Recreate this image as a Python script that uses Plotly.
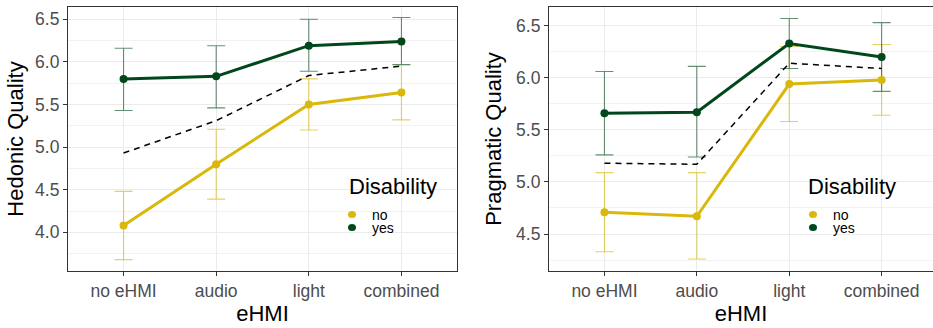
import plotly.graph_objects as go

categories = ["no eHMI", "audio", "light", "combined"]
groups = ["no", "yes"]

# Hedonic Quality
hq_no = [4.08, 4.80, 5.50, 5.64]
hq_no_hi = [4.48, 5.21, 5.80, 5.96]
hq_no_lo = [3.68, 4.39, 5.20, 5.32]
hq_yes = [5.80, 5.83, 6.19, 6.24]
hq_yes_hi = [6.16, 6.19, 6.50, 6.52]
hq_yes_lo = [5.43, 5.46, 5.89, 5.97]
hq_overall = [4.93, 5.31, 5.84, 5.95]

# Pragmatic Quality
pq_no = [4.71, 4.67, 5.94, 5.98]
pq_no_hi = [5.09, 5.09, 6.30, 6.32]
pq_no_lo = [4.33, 4.26, 5.58, 5.64]
pq_yes = [5.66, 5.67, 6.33, 6.20]
pq_yes_hi = [6.06, 6.11, 6.57, 6.53]
pq_yes_lo = [5.26, 5.24, 6.09, 5.87]
pq_overall = [5.18, 5.17, 6.14, 6.09]

y_ticks_hq = [4.0, 4.5, 5.0, 5.5, 6.0, 6.5]
y_ticks_pq = [4.5, 5.0, 5.5, 6.0, 6.5]

COL_NO = "#D9B80B"
COL_YES = "#00471C"
ERR_NO = "rgba(217,184,11,0.65)"
ERR_YES = "rgba(0,71,28,0.6)"
FONT = "Liberation Sans, Arial, sans-serif"

xpos = list(range(len(categories)))

W, H = 933, 328
ML, MR, MT, MB = 68, 0, 7, 57
PW = W - ML - MR
PH = H - MT - MB


def px(xp):
    return (xp - ML) / PW


def py(yp):
    return (H - MB - yp) / PH


fig = go.Figure()


def add_panel(xa, ya, no, no_hi, no_lo, yes, yes_hi, yes_lo, overall):
    for vals, hi, lo, ecol in [(no, no_hi, no_lo, ERR_NO),
                                (yes, yes_hi, yes_lo, ERR_YES)]:
        fig.add_trace(go.Scatter(
            x=xpos, y=vals, mode="markers", xaxis=xa, yaxis=ya,
            marker=dict(color="rgba(0,0,0,0)", size=1),
            error_y=dict(type="data", symmetric=False,
                         array=[h - v for h, v in zip(hi, vals)],
                         arrayminus=[v - l for v, l in zip(vals, lo)],
                         color=ecol, thickness=1.1, width=9),
            showlegend=False, hoverinfo="skip"))
    fig.add_trace(go.Scatter(
        x=xpos, y=overall, mode="lines", xaxis=xa, yaxis=ya,
        line=dict(color="black", width=1.5, dash="6px,5px"),
        showlegend=False, hoverinfo="skip"))
    for vals, col, name in [(no, COL_NO, groups[0]), (yes, COL_YES, groups[1])]:
        fig.add_trace(go.Scatter(
            x=xpos, y=vals, mode="lines+markers", xaxis=xa, yaxis=ya,
            line=dict(color=col, width=3),
            marker=dict(color=col, size=8),
            name=name, showlegend=False))


add_panel("x", "y", hq_no, hq_no_hi, hq_no_lo, hq_yes, hq_yes_hi, hq_yes_lo, hq_overall)
add_panel("x2", "y2", pq_no, pq_no_hi, pq_no_lo, pq_yes, pq_yes_hi, pq_yes_lo, pq_overall)

# manual legends (ggplot style, tight spacing)
annotations = []
shapes = []
for title_x, key_x, lab_x in [(346.5, 352, 369.5), (806, 813, 830.5)]:
    annotations.append(dict(
        text="Disability", x=px(title_x), y=py(186.5), xref="paper", yref="paper",
        xanchor="left", yanchor="middle", showarrow=False,
        font=dict(family=FONT, size=22, color="black")))
    for g, col, yy in [(groups[0], COL_NO, 214.5), (groups[1], COL_YES, 227.5)]:
        annotations.append(dict(
            text=g, x=px(lab_x), y=py(yy), xref="paper", yref="paper",
            xanchor="left", yanchor="middle", showarrow=False,
            font=dict(family=FONT, size=14, color="black")))
        shapes.append(dict(
            type="circle", xref="paper", yref="paper",
            xsizemode="pixel", ysizemode="pixel",
            xanchor=px(key_x), yanchor=py(yy),
            x0=-4, x1=4, y0=-3.6, y1=3.6,
            fillcolor=col, line=dict(width=0)))

common_x = dict(
    tickmode="array", tickvals=xpos, ticktext=categories,
    showgrid=True, gridcolor="#EBEBEB", gridwidth=1.4,
    zeroline=False, showline=True, linecolor="#333333", linewidth=1.1, mirror=True,
    ticks="outside", ticklen=4, tickcolor="#333333", tickwidth=1,
    tickfont=dict(family=FONT, size=17.5, color="#4D4D4D"),
    title=dict(text="eHMI", font=dict(family=FONT, size=22, color="black"), standoff=2),
    automargin=False,
)
common_y = dict(
    tickmode="array",
    showgrid=True, gridcolor="#EBEBEB", gridwidth=1.4,
    minor=dict(dtick=0.25, showgrid=True, gridcolor="#F2F2F2", gridwidth=1, ticklen=0),
    zeroline=False, showline=True, linecolor="#333333", linewidth=1.1, mirror=True,
    ticks="outside", ticklen=4, tickcolor="#333333", tickwidth=1,
    tickfont=dict(family=FONT, size=17.5, color="#4D4D4D"),
    tickformat=".1f",
    automargin=False,
)

fig.update_layout(
    width=W, height=H,
    margin=dict(l=ML, r=MR, t=MT, b=MB),
    plot_bgcolor="white", paper_bgcolor="white",
    font=dict(family=FONT),
    showlegend=False,
    xaxis=dict(domain=[0, px(457)], range=[-0.6, 3.6], anchor="y", **common_x),
    yaxis=dict(domain=[0, 1], range=[3.546, 6.644], anchor="x", tickvals=y_ticks_hq,
               title=dict(text="Hedonic Quality", font=dict(family=FONT, size=22, color="black"), standoff=5),
               **common_y),
    xaxis2=dict(domain=[px(549), 1], range=[-0.6, 3.556], anchor="y2", **common_x),
    yaxis2=dict(domain=[0, 1], range=[4.145, 6.68], anchor="x2", tickvals=y_ticks_pq,
                title=dict(text="Pragmatic Quality", font=dict(family=FONT, size=22, color="black"), standoff=8),
                **common_y),
    annotations=annotations,
    shapes=shapes,
)

fig.write_html("out.html",
               config={"displayModeBar": False},
               post_script="document.body.style.margin='0px';document.body.style.overflow='hidden';")
